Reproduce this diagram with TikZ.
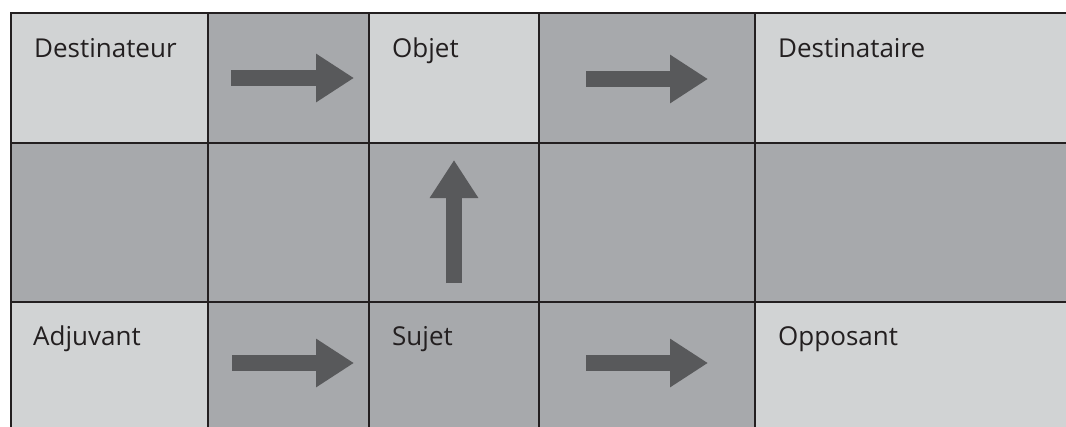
\documentclass[tikz,border=0pt]{standalone}
\usepackage{fontspec}
\setmainfont{Open Sans}
\usetikzlibrary{arrows.meta}
\definecolor{lightc}{HTML}{D1D3D4}
\definecolor{darkc}{HTML}{A7A9AC}
\definecolor{arrowc}{HTML}{58595B}
\definecolor{linec}{HTML}{231F20}
\begin{document}
\begin{tikzpicture}[x=1pt,y=-1pt,
  cellbox/.style={draw=linec, line width=1.6pt, rectangle, inner sep=0pt, outer sep=0pt, anchor=north west},
  lightcell/.style={cellbox, fill=lightc},
  darkcell/.style={cellbox, fill=darkc},
  celltext/.style={anchor=base west, inner sep=0pt, text=linec, font=\fontsize{26}{31}\selectfont},
  blockarrow/.style={draw=arrowc, line width=16pt, line cap=butt, -{Triangle[length=38pt,width=46pt]}}]
\useasboundingbox (0,0) rectangle (1066,426);
\clip (0,0) rectangle (1066,426);
% row 1
\node[lightcell, minimum width=197pt, minimum height=130pt] (c11) at (11,13) {};
\node[darkcell,  minimum width=161pt, minimum height=130pt] (c12) at (208,13) {};
\node[lightcell, minimum width=170pt, minimum height=130pt] (c13) at (369,13) {};
\node[darkcell,  minimum width=216pt, minimum height=130pt] (c14) at (539,13) {};
\node[lightcell, minimum width=317pt, minimum height=130pt] (c15) at (755,13) {};
% row 2
\node[darkcell, minimum width=197pt, minimum height=159pt] (c21) at (11,143) {};
\node[darkcell, minimum width=161pt, minimum height=159pt] (c22) at (208,143) {};
\node[darkcell, minimum width=170pt, minimum height=159pt] (c23) at (369,143) {};
\node[darkcell, minimum width=216pt, minimum height=159pt] (c24) at (539,143) {};
\node[darkcell, minimum width=317pt, minimum height=159pt] (c25) at (755,143) {};
% row 3
\node[lightcell, minimum width=197pt, minimum height=140pt] (c31) at (11,302) {};
\node[darkcell,  minimum width=161pt, minimum height=140pt] (c32) at (208,302) {};
\node[darkcell,  minimum width=170pt, minimum height=140pt] (c33) at (369,302) {};
\node[darkcell,  minimum width=216pt, minimum height=140pt] (c34) at (539,302) {};
\node[lightcell, minimum width=317pt, minimum height=140pt] (c35) at (755,302) {};
% texts
\node[celltext] (destinateur) at (34,57) {Destinateur};
\node[celltext] (objet) at (392,57) {Objet};
\node[celltext] (destinataire) at (778,57) {Destinataire};
\node[celltext] (adjuvant) at (33,345) {Adjuvant};
\node[celltext] (sujet) at (392,345) {Sujet};
\node[celltext] (opposant) at (778,345) {Opposant};
% arrows
\coordinate (a1s) at (231,78);  \coordinate (a1e) at (354,78);
\coordinate (a2s) at (586,79);  \coordinate (a2e) at (708,79);
\coordinate (a3s) at (232,363); \coordinate (a3e) at (354,363);
\coordinate (a4s) at (586,363); \coordinate (a4e) at (708,363);
\coordinate (a5s) at (454,283); \coordinate (a5e) at (454,160);
\draw[blockarrow] (a1s) -- (a1e);
\draw[blockarrow] (a2s) -- (a2e);
\draw[blockarrow] (a3s) -- (a3e);
\draw[blockarrow] (a4s) -- (a4e);
\draw[blockarrow] (a5s) -- (a5e);
\end{tikzpicture}
\end{document}
